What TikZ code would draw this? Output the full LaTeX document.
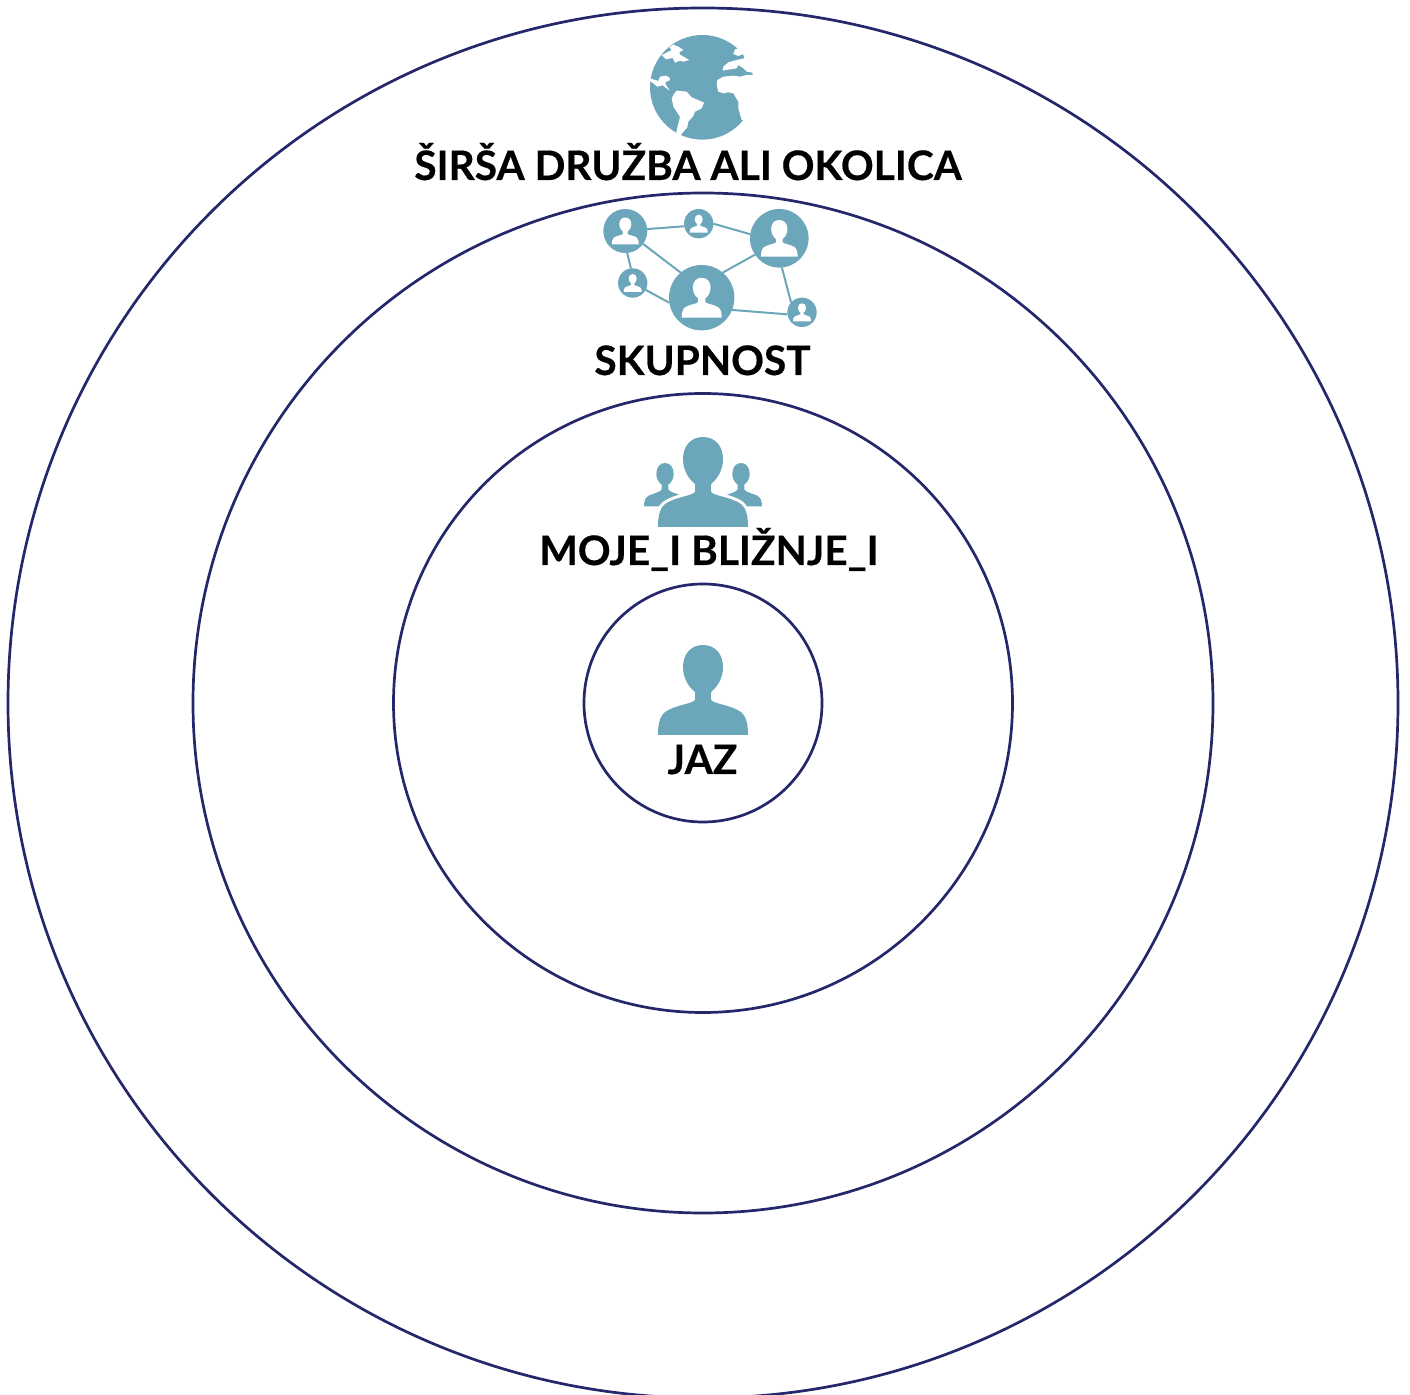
\documentclass[tikz,border=0pt]{standalone}
\usepackage{fontspec}
\setmainfont{Lato}[BoldFont={Lato Bold},BoldFeatures={FakeBold=0.45}]
\definecolor{teal1}{HTML}{6CA6BA}
\definecolor{navy1}{HTML}{25276B}
\tikzset{
  x=0.5pt,y=-0.5pt,
  ring/.style={circle,draw=navy1,line width=1.35pt,inner sep=0pt,outer sep=0pt,fill=none},
  label1/.style={anchor=base,inner sep=0pt,font=\bfseries\fontsize{20.3}{24}\selectfont,text=black},
  netnode/.style={circle,fill=teal1,inner sep=0pt,outer sep=0pt},
  netlink/.style={draw=teal1,line width=1pt},
  person/.pic={
    \path[pic actions] (0,-45) .. controls (12,-45) and (20,-36) .. (20,-23)
      .. controls (20,-11) and (14,-3) .. (8,2) -- (8,10)
      .. controls (11,14) and (28,15) .. (38,22) .. controls (44,27) and (45,36) .. (45,45)
      -- (-45,45) .. controls (-45,36) and (-44,27) .. (-38,22)
      .. controls (-28,15) and (-11,14) .. (-8,10) -- (-8,2)
      .. controls (-14,-3) and (-20,-11) .. (-20,-23)
      .. controls (-20,-36) and (-12,-45) .. (0,-45) -- cycle;
  },
  sideperson/.pic={
    \path[pic actions] (0,-21.5) .. controls (5.5,-21.5) and (8.7,-17) .. (8.7,-10)
      .. controls (8.7,-5) and (5.5,-1.5) .. (3.4,0) -- (3.4,5)
      .. controls (5,8) and (12,9) .. (16,11) .. controls (20,13) and (21,17) .. (21,22)
      -- (-21,22) .. controls (-21,17) and (-20,13) .. (-16,11)
      .. controls (-12,9) and (-5,8) .. (-3.4,5) -- (-3.4,0)
      .. controls (-5.5,-1.5) and (-8.7,-5) .. (-8.7,-10)
      .. controls (-8.7,-17) and (-5.5,-21.5) .. (0,-21.5) -- cycle;
  }
}
\begin{document}
\begin{tikzpicture}
\useasboundingbox (0,0) rectangle (1410,1395);
\clip (0,0) rectangle (1410,1395);
% rings
\node[ring,minimum size=695pt] (r4) at (703,703) {};
\node[ring,minimum size=510pt] (r3) at (703,703) {};
\node[ring,minimum size=309.5pt] (r2) at (703,703) {};
\node[ring,minimum size=119pt] (r1) at (703,703) {};
% globe
\begin{scope}[shift={(630,20)},scale=1/3]
\fill[teal1] (217,202) circle [radius=157];
\fill[white] (95,105)--(112,97)--(125,90)--(118,82)--(130,74)--(145,80)--(160,90)--(148,96)--(150,104)--(178,120)--(160,125)--(150,122)--(135,128)--(128,114)--(108,118)--cycle;
\fill[white] (60,175)--(85,183)--(90,170)--(108,167)--(118,172)--(120,180)--(105,188)--(110,198)--(120,212)--(108,204)--(98,196)--(82,200)--(70,190)--(58,182)--cycle;
\fill[white] (125,235)--(132,222)--(140,212)--(170,215)--(185,232)--(195,236)--(222,248)--(215,265)--(195,275)--(190,288)--(175,305)--(172,322)--(150,347)--(138,340)--(150,290)--(130,260)--cycle;
\end{scope}
\begin{scope}[shift={(700,30)},scale=1/3]
\fill[white] (105,58)--(100,72)--(115,78)--(130,72)--(133,85)--(110,90)--(85,97)--(70,110)--(68,122)--(90,118)--(110,115)--(115,105)--(130,115)--(140,125)--(158,128)--(158,135)--(140,135)--(120,140)--(100,137)--(70,140)--(52,150)--(50,165)--(55,185)--(70,190)--(85,187)--(100,190)--(115,215)--(115,235)--(125,270)--(180,270)--(180,40)--cycle;
\end{scope}
\node[label1] (t4) at (688,180) {ŠIRŠA DRUŽBA ALI OKOLICA};
% network
\node[netnode,minimum size=22pt] (na) at (625.3,231) {};
\node[netnode,minimum size=14.7pt] (nb) at (698.7,223.7) {};
\node[netnode,minimum size=29.3pt] (nc) at (779.3,238.3) {};
\node[netnode,minimum size=14.7pt] (nd) at (632.7,283) {};
\node[netnode,minimum size=32.7pt] (ne) at (701.7,297.7) {};
\node[netnode,minimum size=14.7pt] (nf) at (802,312.3) {};
\path[netlink] (na.5)--(nb.190) (nb.0)--(nc.172) (na.-85)--(nd.97) (na.-36)--(ne.130) (nd.-28)--(ne.189) (nc.214)--(ne.50) (nc.-85)--(nf.138) (ne.-22)--(nf.188);
\foreach \n/\s in {na/.3,nb/.2,nc/.407,nd/.2,ne/.444,nf/.2}
  \pic[fill=white,scale=\s] at (\n) {person};
\node[label1] (t3) at (702.5,375) {SKUPNOST};
% close ones
\pic[fill=teal1] at (665,484.5) {sideperson};
\pic[fill=teal1] at (741,484.5) {sideperson};
\pic[draw=white,line width=3pt,fill=white] at (703,482) {person};
\pic[fill=teal1] at (703,482) {person};
\node[label1] (t2) at (709,565) {MOJE\_I BLIŽNJE\_I};
% self
\pic[fill=teal1] at (703,690) {person};
\node[label1] (t1) at (702.5,774) {JAZ};
\end{tikzpicture}
\end{document}
